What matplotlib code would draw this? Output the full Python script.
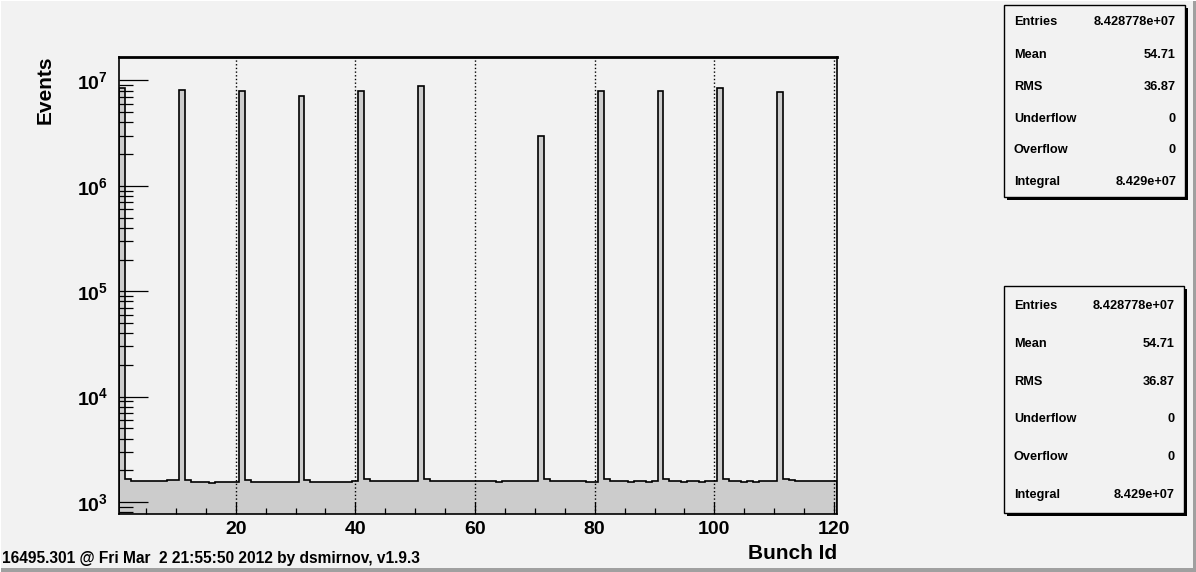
import matplotlib
matplotlib.use('Agg')
import matplotlib.pyplot as plt
from matplotlib.patches import Rectangle
from matplotlib.ticker import FixedLocator, LogLocator, FuncFormatter, MultipleLocator, NullFormatter
import numpy as np

# events per bunch id 1..120
events = [
    8.4e6, 1670, 1590, 1590, 1590, 1590, 1590, 1590, 1620, 1620,
    8.05e6, 1610, 1555, 1555, 1555, 1520, 1555, 1555, 1555, 1555,
    8.0e6, 1610, 1555, 1555, 1555, 1555, 1555, 1555, 1555, 1555,
    7.2e6, 1610, 1555, 1555, 1555, 1555, 1555, 1555, 1555, 1590,
    8.0e6, 1670, 1600, 1600, 1600, 1600, 1600, 1600, 1600, 1600,
    8.8e6, 1670, 1600, 1600, 1600, 1600, 1600, 1600, 1600, 1580,
    1580, 1580, 1580, 1555, 1580, 1580, 1580, 1580, 1580, 1600,
    3.0e6, 1670, 1600, 1600, 1600, 1600, 1600, 1600, 1555, 1555,
    8.0e6, 1670, 1600, 1600, 1600, 1555, 1600, 1600, 1555, 1600,
    8.0e6, 1670, 1600, 1600, 1555, 1600, 1600, 1555, 1600, 1600,
    8.4e6, 1670, 1600, 1600, 1555, 1600, 1555, 1600, 1600, 1600,
    7.8e6, 1670, 1620, 1590, 1590, 1590, 1590, 1590, 1590, 1590,
]
bin_edges = np.arange(0.5, 121.0, 1.0)
x_ticks = [20, 40, 60, 80, 100, 120]

stat_names = ['Entries', 'Mean', 'RMS', 'Underflow', 'Overflow', 'Integral']
stat_values = ['8.428778e+07', '54.71', '36.87', '0', '0', '8.429e+07']

footer = '16495.301 @ Fri Mar  2 21:55:50 2012 by dsmirnov, v1.9.3'

W, H = 1196, 572
BG = '#f2f2f2'
FILL = '#cccccc'
FONT = 'Liberation Sans'

plt.rcParams['font.family'] = [FONT, 'DejaVu Sans']
plt.rcParams['font.weight'] = 'bold'
plt.rcParams['mathtext.fontset'] = 'custom'
plt.rcParams['mathtext.rm'] = FONT + ':bold'
plt.rcParams['mathtext.bf'] = FONT + ':bold'
plt.rcParams['mathtext.it'] = FONT + ':bold'


def fx(x):
    return x / W


def fy(y):
    return 1 - y / H


fig = plt.figure(figsize=(W / 100, H / 100), dpi=100, facecolor=BG)

ax = fig.add_axes([fx(119), fy(514), (837 - 119) / W, (514 - 57) / H])
ax.set_facecolor(BG)
ax.stairs(events, bin_edges, baseline=1, fill=True, facecolor=FILL,
          edgecolor='black', linewidth=1.2, zorder=1)

ax.set_yscale('log')
ax.set_xlim(0.5, 120.5)
ax.set_ylim(770, 1.67e7)

ax.xaxis.set_major_locator(FixedLocator(x_ticks))
ax.xaxis.set_minor_locator(MultipleLocator(5))
ax.yaxis.set_major_locator(LogLocator(base=10))
ax.yaxis.set_minor_locator(LogLocator(base=10, subs=np.arange(2, 10)))
ax.yaxis.set_major_formatter(FuncFormatter(lambda v, p: r'$\mathbf{10^{%d}}$' % round(np.log10(v))))
ax.yaxis.set_minor_formatter(NullFormatter())

ax.tick_params(axis='x', which='major', direction='in', length=8.5, width=0.9,
               labelsize=14, pad=5, top=False)
ax.tick_params(axis='x', which='minor', direction='in', length=4.3, width=0.9, top=False)
ax.tick_params(axis='y', which='major', direction='in', length=21, width=0.9,
               labelsize=14, pad=8, right=False)
ax.tick_params(axis='y', which='minor', direction='in', length=10, width=0.9, right=False)
for lbl in ax.get_xticklabels() + ax.get_yticklabels():
    lbl.set_fontweight('bold')

ax.grid(True, axis='x', which='major', linestyle=':', color='black', linewidth=1)

for side in ['left', 'right', 'bottom']:
    ax.spines[side].set_linewidth(1.2)
ax.spines['top'].set_linewidth(2)

fig.text(fx(45), fy(90), 'Events', rotation=90, ha='center', va='center',
         fontsize=15, fontweight='bold')
fig.text(fx(837), fy(559), 'Bunch Id', ha='right', va='baseline',
         fontsize=15, fontweight='bold')
fig.text(fx(2), fy(563), footer, ha='left', va='baseline', fontsize=11.2, fontweight='bold')

# stats boxes
boxes = [(1004, 1185, 5, 197, [22, 55, 87, 119, 150, 182]),
         (1004, 1184, 286, 513, [306, 344, 382, 419, 457, 495])]
for x0, x1, y0, y1, rows in boxes:
    fig.add_artist(Rectangle((fx(x0 + 3), fy(y1 + 3)), (x1 - x0) / W, (y1 - y0) / H,
                             transform=fig.transFigure, facecolor='black', edgecolor='none'))
    fig.add_artist(Rectangle((fx(x0), fy(y1)), (x1 - x0) / W, (y1 - y0) / H,
                             transform=fig.transFigure, facecolor=BG, edgecolor='black',
                             linewidth=1))
    for name, val, ry in zip(stat_names, stat_values, rows):
        fig.text(fx(x0 + 10), fy(ry), name, ha='left', va='center', fontsize=9.2,
                 fontweight='bold')
        fig.text(fx(x1 - 9), fy(ry), val, ha='right', va='center', fontsize=9.2,
                 fontweight='bold')

# canvas bevel
fig.add_artist(Rectangle((fx(1193), 0), 3 / W, 1, transform=fig.transFigure,
                         facecolor='#a0a0a0', edgecolor='none'))
fig.add_artist(Rectangle((0, 0), 1, 4 / H, transform=fig.transFigure,
                         facecolor='#a0a0a0', edgecolor='none'))
fig.add_artist(Rectangle((0, fy(1)), 1, 1 / H, transform=fig.transFigure,
                         facecolor='white', edgecolor='none'))
fig.add_artist(Rectangle((0, 0), 1 / W, 1, transform=fig.transFigure,
                         facecolor='white', edgecolor='none'))

fig.savefig('out.png', dpi=100, facecolor=BG)
